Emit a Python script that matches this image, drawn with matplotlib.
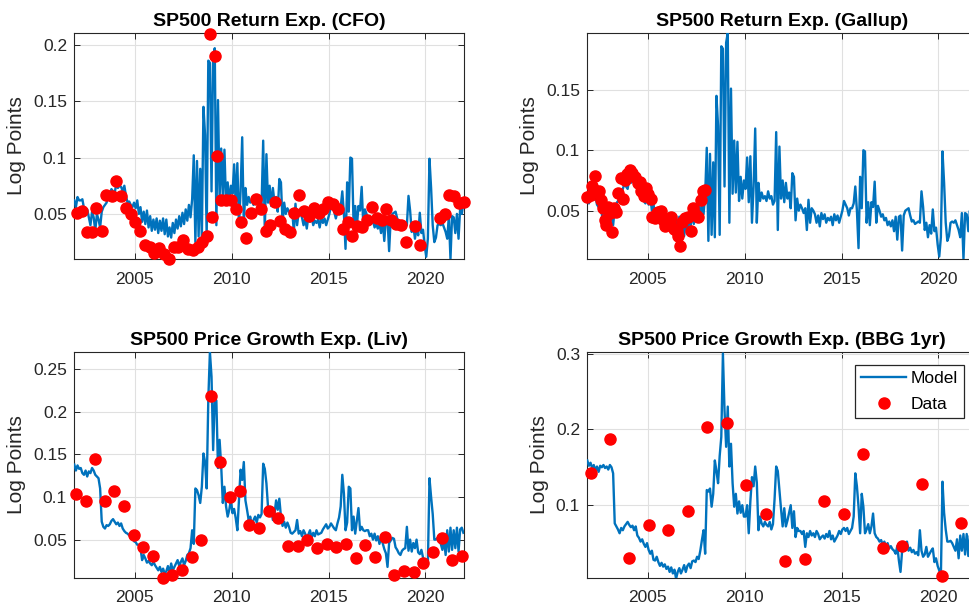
import numpy as np
import matplotlib
matplotlib.use("Agg")
import matplotlib.pyplot as plt
from matplotlib.ticker import FuncFormatter

plt.rcParams['font.family'] = ['Liberation Sans', 'DejaVu Sans']

# ---- model series, monthly Nov 2001 .. Dec 2021 ----
# return expectation model (same line in CFO and Gallup panels)
ret_model = [
    0.062, 0.056,  # 2001 Nov-Dec
    0.065, 0.062, 0.062, 0.063, 0.055, 0.053, 0.054, 0.047, 0.040, 0.052, 0.047, 0.035,  # 2002
    0.050, 0.045, 0.038, 0.052, 0.056, 0.058, 0.060, 0.065, 0.068, 0.072, 0.070, 0.068,  # 2003
    0.077, 0.073, 0.075, 0.074, 0.070, 0.075, 0.066, 0.060, 0.061, 0.058, 0.056, 0.060,  # 2004
    0.055, 0.062, 0.050, 0.056, 0.043, 0.052, 0.041, 0.053, 0.038, 0.048, 0.035, 0.045,  # 2005
    0.036, 0.046, 0.033, 0.044, 0.035, 0.046, 0.032, 0.045, 0.030, 0.038, 0.029, 0.042,  # 2006
    0.033, 0.045, 0.037, 0.048, 0.039, 0.051, 0.041, 0.054, 0.044, 0.058, 0.047, 0.063,  # 2007
    0.102, 0.025, 0.097, 0.030, 0.090, 0.028, 0.145, 0.120, 0.030, 0.186, 0.184, 0.070,  # 2008
    0.189, 0.197, 0.040, 0.151, 0.064, 0.108, 0.065, 0.107, 0.058, 0.078, 0.060, 0.075,  # 2009
    0.068, 0.094, 0.057, 0.095, 0.040, 0.070, 0.118, 0.040, 0.073, 0.058, 0.065, 0.060,  # 2010
    0.062, 0.058, 0.066, 0.060, 0.062, 0.055, 0.058, 0.115, 0.034, 0.103, 0.060, 0.075,  # 2011
    0.057, 0.073, 0.060, 0.065, 0.052, 0.081, 0.078, 0.042, 0.060, 0.050, 0.055, 0.052,  # 2012
    0.048, 0.052, 0.034, 0.059, 0.040, 0.052, 0.050, 0.047, 0.040, 0.046, 0.037, 0.048,  # 2013
    0.043, 0.047, 0.040, 0.044, 0.042, 0.045, 0.038, 0.047, 0.042, 0.046, 0.040, 0.045,  # 2014
    0.050, 0.058, 0.055, 0.052, 0.046, 0.052, 0.052, 0.056, 0.070, 0.050, 0.019, 0.078,  # 2015
    0.052, 0.100, 0.099, 0.040, 0.057, 0.038, 0.057, 0.053, 0.074, 0.040, 0.054, 0.050,  # 2016
    0.045, 0.047, 0.042, 0.044, 0.038, 0.041, 0.037, 0.042, 0.033, 0.045, 0.026, 0.045,  # 2017
    0.046, 0.017, 0.046, 0.050, 0.051, 0.052, 0.046, 0.041, 0.042, 0.039, 0.040, 0.041,  # 2018
    0.040, 0.066, 0.053, 0.034, 0.040, 0.028, 0.038, 0.031, 0.051, 0.033, 0.036, 0.022,  # 2019
    0.012, 0.028, 0.099, 0.073, 0.040, 0.025, 0.029, 0.040, 0.041, 0.040, 0.042, 0.038,  # 2020
    0.034, 0.028, 0.048, 0.010, 0.048, 0.047, 0.033, 0.050, 0.028, 0.055, 0.050, 0.060,  # 2021
]

# price growth model, Livingston panel
liv_model = [
    0.138, 0.131,
    0.137, 0.133, 0.134, 0.128, 0.126, 0.131, 0.124, 0.130, 0.128, 0.134, 0.131, 0.126,
    0.124, 0.122, 0.110, 0.071, 0.065, 0.063, 0.067, 0.066, 0.068, 0.072, 0.074, 0.071,
    0.068, 0.070, 0.066, 0.069, 0.063, 0.060, 0.058, 0.057, 0.055, 0.054, 0.052, 0.048,
    0.047, 0.044, 0.044, 0.040, 0.026, 0.032, 0.028, 0.023, 0.025, 0.022, 0.020, 0.024,
    0.020, 0.017, 0.014, 0.018, 0.012, 0.016, 0.010, 0.013, 0.019, 0.010, 0.022, 0.014,
    0.018, 0.022, 0.026, 0.019, 0.024, 0.028, 0.020, 0.025, 0.032, 0.034, 0.040, 0.061,
    0.045, 0.110, 0.108, 0.102, 0.093, 0.112, 0.151, 0.141, 0.110, 0.214, 0.270, 0.241,
    0.155, 0.216, 0.213, 0.134, 0.167, 0.136, 0.093, 0.112, 0.089, 0.077, 0.085, 0.097,
    0.081, 0.086, 0.075, 0.061, 0.096, 0.132, 0.120, 0.141, 0.096, 0.085, 0.073, 0.077,
    0.065, 0.073, 0.077, 0.070, 0.079, 0.076, 0.080, 0.139, 0.133, 0.116, 0.088, 0.083,
    0.085, 0.073, 0.080, 0.096, 0.085, 0.098, 0.077, 0.066, 0.071, 0.064, 0.070, 0.065,
    0.058, 0.057, 0.059, 0.061, 0.073, 0.057, 0.060, 0.054, 0.061, 0.057, 0.052, 0.056,
    0.061, 0.052, 0.058, 0.054, 0.061, 0.056, 0.057, 0.058, 0.062, 0.065, 0.068, 0.063,
    0.065, 0.069, 0.066, 0.063, 0.061, 0.069, 0.076, 0.089, 0.126, 0.104, 0.061, 0.070,
    0.112, 0.110, 0.061, 0.077, 0.057, 0.072, 0.087, 0.061, 0.065, 0.061, 0.060, 0.061,
    0.061, 0.054, 0.057, 0.050, 0.057, 0.049, 0.054, 0.045, 0.052, 0.046, 0.039, 0.034,
    0.018, 0.046, 0.049, 0.052, 0.051, 0.041, 0.038, 0.034, 0.032, 0.037, 0.039, 0.040,
    0.065, 0.037, 0.050, 0.036, 0.046, 0.040, 0.050, 0.035, 0.033, 0.038, 0.029, 0.024,
    0.024, 0.022, 0.122, 0.100, 0.080, 0.050, 0.050, 0.052, 0.050, 0.045, 0.038, 0.050,
    0.032, 0.061, 0.036, 0.064, 0.038, 0.061, 0.040, 0.064, 0.036, 0.062, 0.064, 0.058,
]

# price growth model, Bloomberg 1yr panel
bbg_model = [
    0.159, 0.152,
    0.156, 0.149, 0.153, 0.146, 0.151, 0.144, 0.152, 0.150, 0.153, 0.149, 0.151, 0.147,
    0.153, 0.150, 0.142, 0.076, 0.072, 0.068, 0.063, 0.070, 0.067, 0.072, 0.075, 0.078,
    0.074, 0.071, 0.073, 0.067, 0.072, 0.060, 0.057, 0.052, 0.055, 0.049, 0.045, 0.050,
    0.041, 0.036, 0.040, 0.028, 0.027, 0.032, 0.025, 0.020, 0.024, 0.019, 0.022, 0.016,
    0.019, 0.012, 0.018, 0.010, 0.015, 0.003, 0.012, 0.017, 0.010, 0.015, 0.021, 0.012,
    0.020, 0.023, 0.017, 0.026, 0.027, 0.025, 0.032, 0.029, 0.040, 0.054, 0.067, 0.036,
    0.120, 0.118, 0.122, 0.098, 0.115, 0.159, 0.145, 0.129, 0.165, 0.190, 0.300, 0.225,
    0.177, 0.230, 0.151, 0.181, 0.129, 0.098, 0.115, 0.089, 0.105, 0.090, 0.100, 0.085,
    0.085, 0.100, 0.063, 0.105, 0.137, 0.125, 0.151, 0.130, 0.067, 0.085, 0.076, 0.072,
    0.078, 0.074, 0.072, 0.078, 0.068, 0.075, 0.108, 0.151, 0.145, 0.120, 0.095, 0.072,
    0.096, 0.072, 0.080, 0.090, 0.100, 0.070, 0.092, 0.058, 0.070, 0.066, 0.066, 0.062,
    0.066, 0.045, 0.063, 0.058, 0.066, 0.060, 0.063, 0.058, 0.066, 0.062, 0.055, 0.058,
    0.060, 0.056, 0.062, 0.058, 0.066, 0.055, 0.060, 0.052, 0.056, 0.060, 0.066, 0.062,
    0.068, 0.070, 0.066, 0.070, 0.062, 0.066, 0.070, 0.085, 0.142, 0.125, 0.098, 0.063,
    0.115, 0.098, 0.063, 0.068, 0.075, 0.063, 0.072, 0.089, 0.063, 0.058, 0.056, 0.052,
    0.054, 0.048, 0.052, 0.045, 0.050, 0.043, 0.046, 0.042, 0.040, 0.036, 0.046, 0.027,
    0.012, 0.040, 0.045, 0.048, 0.052, 0.040, 0.044, 0.038, 0.041, 0.036, 0.038, 0.034,
    0.067, 0.040, 0.032, 0.035, 0.045, 0.032, 0.036, 0.040, 0.043, 0.025, 0.030, 0.020,
    0.014, 0.005, 0.131, 0.090, 0.068, 0.052, 0.052, 0.053, 0.050, 0.045, 0.040, 0.055,
    0.030, 0.060, 0.040, 0.062, 0.035, 0.062, 0.033, 0.060, 0.040, 0.065, 0.045, 0.063,
]

# mid-month dates, Nov 2001 onward
month_t = 2001 + (10.5 + np.arange(len(ret_model))) / 12

# ---- survey data ----
cfo_t = [2002.00, 2002.28, 2002.52, 2002.80, 2003.02, 2003.30, 2003.52, 2003.80,
         2004.02, 2004.29, 2004.53, 2004.78, 2005.02, 2005.26, 2005.50, 2005.76,
         2006.00, 2006.24, 2006.50, 2006.76, 2007.00, 2007.25, 2007.50, 2007.75,
         2007.99, 2008.25, 2008.49, 2008.73, 2008.89, 2008.99, 2009.16, 2009.25,
         2009.46, 2009.72, 2009.97, 2010.23, 2010.49, 2010.75, 2011.01, 2011.25,
         2011.50, 2011.75, 2011.99, 2012.23, 2012.50, 2012.76, 2013.00, 2013.23,
         2013.49, 2013.73, 2013.98, 2014.23, 2014.48, 2014.72, 2014.98, 2015.22,
         2015.48, 2015.74, 2015.98, 2016.22, 2016.46, 2016.74, 2016.98, 2017.24,
         2017.48, 2017.74, 2017.98, 2018.24, 2018.49, 2018.74, 2018.98, 2019.48,
         2019.74, 2020.73, 2020.99, 2021.23, 2021.47, 2021.73, 2021.99]
cfo_v = [0.051, 0.053, 0.034, 0.034, 0.055, 0.035, 0.067, 0.066,
         0.079, 0.066, 0.055, 0.050, 0.043, 0.035, 0.022, 0.021,
         0.015, 0.020, 0.014, 0.010, 0.021, 0.021, 0.027, 0.019,
         0.018, 0.021, 0.025, 0.030, 0.210, 0.047, 0.190, 0.101,
         0.062, 0.062, 0.062, 0.054, 0.043, 0.029, 0.051, 0.063,
         0.054, 0.035, 0.040, 0.061, 0.044, 0.037, 0.034, 0.051,
         0.067, 0.053, 0.048, 0.055, 0.051, 0.054, 0.061, 0.059,
         0.054, 0.037, 0.043, 0.030, 0.039, 0.038, 0.045, 0.056,
         0.046, 0.045, 0.054, 0.045, 0.041, 0.040, 0.025, 0.039,
         0.022, 0.046, 0.050, 0.067, 0.066, 0.060, 0.061]

gallup_t = [2001.88, 2002.05, 2002.12, 2002.26, 2002.34, 2002.47, 2002.57, 2002.69,
            2002.78, 2002.83, 2002.95, 2003.03, 2003.17, 2003.26, 2003.38, 2003.47,
            2003.60, 2003.72, 2003.81, 2003.95, 2004.07, 2004.19, 2004.33, 2004.47,
            2004.59, 2004.67, 2004.81, 2004.90, 2005.02, 2005.14, 2005.24, 2005.36,
            2005.45, 2005.53, 2005.66, 2005.76, 2005.88, 2006.02, 2006.14, 2006.22,
            2006.34, 2006.48, 2006.57, 2006.67, 2006.78, 2006.91, 2007.09, 2007.22,
            2007.34, 2007.47, 2007.60, 2007.74, 2007.86, 2007.95]
gallup_v = [0.061, 0.063, 0.070, 0.079, 0.066, 0.066, 0.059, 0.052,
            0.042, 0.038, 0.053, 0.048, 0.032, 0.052, 0.049, 0.065,
            0.077, 0.060, 0.075, 0.080, 0.084, 0.081, 0.078, 0.073,
            0.074, 0.066, 0.062, 0.069, 0.064, 0.060, 0.045, 0.044,
            0.048, 0.049, 0.050, 0.042, 0.037, 0.042, 0.041, 0.045,
            0.035, 0.033, 0.029, 0.021, 0.041, 0.044, 0.045, 0.033,
            0.052, 0.046, 0.045, 0.059, 0.066, 0.067]

liv_t = [2001.96, 2002.46, 2002.96, 2003.44, 2003.94, 2004.44, 2004.94, 2005.43,
         2005.93, 2006.43, 2006.93, 2007.43, 2007.93, 2008.42, 2008.92, 2009.40,
         2009.92, 2010.42, 2010.91, 2011.41, 2011.91, 2012.41, 2012.91, 2013.41,
         2013.90, 2014.40, 2014.90, 2015.40, 2015.90, 2016.40, 2016.90, 2017.39,
         2017.89, 2018.39, 2018.89, 2019.39, 2019.88, 2020.37, 2020.87, 2021.37,
         2021.88]
liv_v = [0.104, 0.095, 0.145, 0.095, 0.107, 0.089, 0.055, 0.041,
         0.031, 0.005, 0.009, 0.014, 0.030, 0.050, 0.218, 0.141,
         0.100, 0.107, 0.067, 0.064, 0.084, 0.075, 0.043, 0.043,
         0.050, 0.040, 0.045, 0.041, 0.045, 0.028, 0.044, 0.030,
         0.053, 0.009, 0.013, 0.012, 0.023, 0.036, 0.052, 0.026,
         0.031]

bbg_t = [2002.05, 2003.06, 2004.05, 2005.05, 2006.06, 2007.07, 2008.07, 2009.08,
         2010.09, 2011.09, 2012.10, 2013.11, 2014.11, 2015.12, 2016.13, 2017.14,
         2018.14, 2019.15, 2020.16, 2021.15]
bbg_v = [0.143, 0.187, 0.031, 0.074, 0.067, 0.093, 0.203, 0.209,
         0.126, 0.088, 0.026, 0.029, 0.106, 0.089, 0.168, 0.043,
         0.046, 0.128, 0.007, 0.076]

titles = ['SP500 Return Exp. (CFO)', 'SP500 Return Exp. (Gallup)',
          'SP500 Price Growth Exp. (Liv)', 'SP500 Price Growth Exp. (BBG 1yr)']

BLUE = '#0072BD'
DARK = '#262626'

fig = plt.figure(figsize=(9.70, 6.13), dpi=100)
W, H = 970, 613


def make_ax(x0, y0, x1, y1):
    # pixel box -> figure fraction (right column runs past the image edge)
    return fig.add_axes([x0 / W, 1 - y1 / H, (x1 - x0) / W, (y1 - y0) / H])


axes = [make_ax(74, 33, 464, 259), make_ax(587, 33, 977, 259),
        make_ax(74, 352, 464, 578), make_ax(587, 352, 977, 578)]

panels = [
    (ret_model, cfo_t, cfo_v, (0.01, 0.2105), [0.05, 0.1, 0.15, 0.2]),
    (ret_model, gallup_t, gallup_v, (0.01, 0.197), [0.05, 0.1, 0.15]),
    (liv_model, liv_t, liv_v, (0.005, 0.27), [0.05, 0.1, 0.15, 0.2, 0.25]),
    (bbg_model, bbg_t, bbg_v, (0.004, 0.302), [0.1, 0.2, 0.3]),
]

for ax, title, (model, dt, dv, ylim, yt) in zip(axes, titles, panels):
    ax.plot(month_t, model, color=BLUE, lw=1.7, label='Model', zorder=3)
    ax.plot(dt, dv, 'o', color='red', mec='red', ms=8,
            clip_on=False, label='Data', zorder=4)
    ax.set_xlim(2001.86, 2021.99)
    ax.set_ylim(*ylim)
    ax.set_xticks([2005, 2010, 2015, 2020])
    ax.set_yticks(yt)
    ax.yaxis.set_major_formatter(FuncFormatter(lambda v, p: '%g' % v))
    ax.grid(True, color='#e0e0e0', lw=0.8, zorder=0)
    ax.set_axisbelow(True)
    ax.tick_params(direction='in', length=4, width=0.7, colors=DARK,
                   labelsize=12.5, top=True, right=True)
    ax.tick_params(axis='x', pad=9)
    ax.tick_params(axis='y', pad=5)
    for s in ax.spines.values():
        s.set_color(DARK)
        s.set_linewidth(0.8)
    ax.set_title(title, fontsize=14, fontweight='bold', pad=5)
    ax.set_ylabel('Log Points', fontsize=15, color=DARK, labelpad=5)

leg = axes[3].legend(loc='upper right', fontsize=12.5, frameon=True, fancybox=False,
                     edgecolor=DARK, framealpha=1, borderaxespad=0.75,
                     handlelength=2.6, handletextpad=0.25, borderpad=0.35,
                     labelspacing=0.6)
leg.get_frame().set_linewidth(0.9)

fig.savefig('out.png', dpi=100)
